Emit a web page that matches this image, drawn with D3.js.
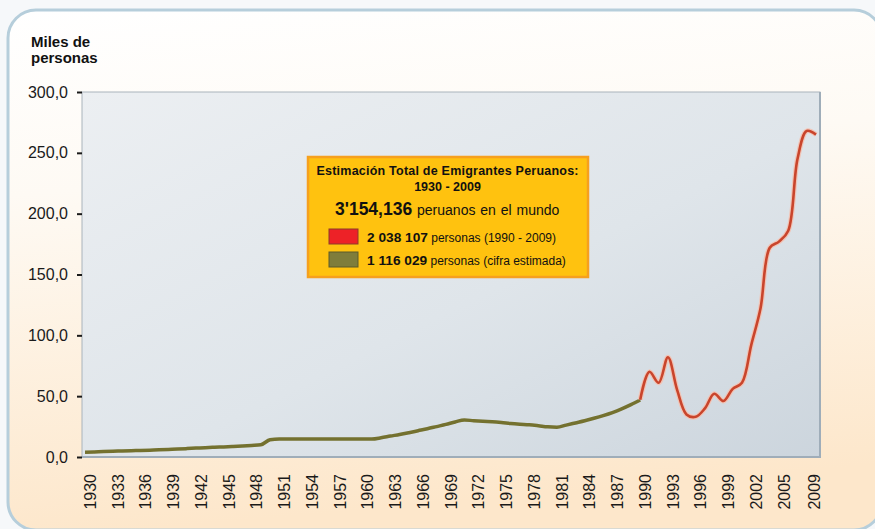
<!DOCTYPE html>
<html>
<head>
<meta charset="utf-8">
<script src="https://cdn.jsdelivr.net/npm/d3@7"></script>
<style>
  body { margin: 0; background: #f6f8fa; }
  svg text { font-family: "Liberation Sans", Arial, sans-serif; }
</style>
</head>
<body>
<svg width="875" height="529"></svg>
<script>
// estimated (olive) series, 1930-1990, miles de personas
var oliveYears = d3.range(1930, 1991);
var oliveValues = [
  4.0, 4.2, 4.5, 4.8, 5.0, 5.2, 5.4, 5.6, 5.9, 6.2,
  6.5, 6.9, 7.3, 7.7, 8.0, 8.3, 8.7, 9.1, 9.5, 10.0,
  14.2, 14.8, 14.8, 14.8, 14.8, 14.8, 14.8, 14.8, 14.8, 14.8,
  14.8, 14.8, 15.8, 17.2, 18.5, 20.0, 21.6, 23.2, 25.0, 26.8,
  28.8, 30.5, 29.8, 29.3, 29.0, 28.4, 27.6, 27.0, 26.5, 25.7,
  24.8, 24.5, 26.2, 28.0, 29.8, 31.8, 34.0, 36.5, 39.5, 43.0,
  46.8
];

// registered (red) series, 1990-2009
var redYears = d3.range(1990, 2010);
var redValues = [
  47, 70, 61, 82, 55, 35, 33, 40, 52, 46,
  56, 61, 92, 122, 172, 177, 186, 245, 268, 265
];

var tickYears = ["1930", "1933", "1936", "1939", "1942", "1945", "1948", "1951", "1954",
  "1957", "1960", "1963", "1966", "1969", "1972", "1975", "1978", "1981", "1984",
  "1987", "1990", "1993", "1996", "1999", "2002", "2005", "2009"];
var yTicks = [0, 50, 100, 150, 200, 250, 300];

var svg = d3.select("svg");
var width = +svg.attr("width");
var height = +svg.attr("height");

var plot = { left: 82, right: 820, top: 92, bottom: 457 };

var x = d3.scaleLinear().domain([1930, 2009]).range([85, 816]);
var y = d3.scaleLinear().domain([0, 300]).range([plot.bottom, plot.top]);

var defs = svg.append("defs");
var bg = defs.append("linearGradient").attr("id", "bg")
  .attr("x1", 0).attr("y1", 0).attr("x2", 0.15).attr("y2", 1);
bg.append("stop").attr("offset", "0%").attr("stop-color", "#ffffff");
bg.append("stop").attr("offset", "35%").attr("stop-color", "#fefaf4");
bg.append("stop").attr("offset", "100%").attr("stop-color", "#fde7cb");

var pg = defs.append("linearGradient").attr("id", "pg")
  .attr("x1", 0).attr("y1", 0).attr("x2", 1).attr("y2", 1);
pg.append("stop").attr("offset", "0%").attr("stop-color", "#eceff2");
pg.append("stop").attr("offset", "55%").attr("stop-color", "#dfe5ea");
pg.append("stop").attr("offset", "100%").attr("stop-color", "#ccd5dd");

// panel
svg.append("rect")
  .attr("x", 8).attr("y", 10)
  .attr("width", 874).attr("height", 520)
  .attr("rx", 28)
  .attr("fill", "url(#bg)")
  .attr("stroke", "#b6cedb")
  .attr("stroke-width", 3);

// plot area
svg.append("rect")
  .attr("x", plot.left).attr("y", plot.top)
  .attr("width", plot.right - plot.left).attr("height", plot.bottom - plot.top)
  .attr("fill", "url(#pg)")
  .attr("stroke", "#a9b3bc")
  .attr("stroke-width", 1);
svg.append("path")
  .attr("d", "M" + plot.left + "," + plot.bottom + "H" + plot.right + "V" + plot.top)
  .attr("fill", "none")
  .attr("stroke", "#9fadb9")
  .attr("stroke-width", 2);

// y axis
var yAxis = svg.append("g")
  .attr("transform", "translate(" + plot.left + ",0)")
  .call(d3.axisLeft(y)
    .tickValues(yTicks)
    .tickSize(5)
    .tickPadding(9)
    .tickFormat(function(d){
      return d3.format(".1f")(d).replace(".", ",");
    }));
yAxis.select(".domain").remove();
yAxis.selectAll("line").attr("stroke", "#1a1a1a").attr("stroke-width", 2);
yAxis.selectAll("text")
  .attr("fill", "#1a1a1a")
  .style("font-size", "16px")
  .style("font-family", "Liberation Sans, Arial, sans-serif");

// x labels
svg.append("g").selectAll("text")
  .data(tickYears)
  .enter()
  .append("text")
  .attr("transform", function(d){
    var px = Math.min(x(+d) + 5, plot.right - 6);
    return "translate(" + px + ",474) rotate(-90)";
  })
  .attr("dy", "0.36em")
  .attr("text-anchor", "end")
  .attr("fill", "#1a1a1a")
  .style("font-size", "16px")
  .text(function(d){ return d; });

// y title
var title = svg.append("text")
  .attr("x", 31).attr("y", 47)
  .attr("font-weight", "bold")
  .attr("fill", "#111")
  .style("font-size", "15px");
title.append("tspan").attr("x", 31).text("Miles de");
title.append("tspan").attr("x", 31).attr("dy", 15.5).text("personas");

// lines
var line = d3.line()
  .x(function(d){ return x(d[0]); })
  .y(function(d){ return y(d[1]); });

var olive = d3.zip(oliveYears, oliveValues);
var red = d3.zip(redYears, redValues);

svg.append("path")
  .attr("d", line.curve(d3.curveMonotoneX)(olive))
  .attr("fill", "none")
  .attr("stroke", "#74712f")
  .attr("stroke-width", 3.5)
  .attr("stroke-linejoin", "round");

var redLine = line.curve(d3.curveCatmullRom.alpha(0.5));
svg.append("path")
  .attr("d", redLine(red))
  .attr("fill", "none")
  .attr("stroke", "#f1c4b6")
  .attr("stroke-width", 5)
  .attr("stroke-linejoin", "round");
svg.append("path")
  .attr("d", redLine(red))
  .attr("fill", "none")
  .attr("stroke", "#c9452c")
  .attr("stroke-width", 2.6)
  .attr("stroke-linejoin", "round");

// legend box
var lg = svg.append("g");
lg.append("rect")
  .attr("x", 308).attr("y", 157)
  .attr("width", 280).attr("height", 120)
  .attr("fill", "#ffc20f")
  .attr("stroke", "#f6a01e")
  .attr("stroke-width", 2.5);

lg.append("text")
  .attr("x", 447.5).attr("y", 175)
  .attr("text-anchor", "middle")
  .attr("font-weight", "bold")
  .attr("textLength", 262)
  .attr("lengthAdjust", "spacing")
  .attr("fill", "#111")
  .style("font-size", "12.5px")
  .text("Estimación Total de Emigrantes Peruanos:");

lg.append("text")
  .attr("x", 447.5).attr("y", 191)
  .attr("text-anchor", "middle")
  .attr("font-weight", "bold")
  .attr("fill", "#111")
  .style("font-size", "12.5px")
  .text("1930 - 2009");

var total = lg.append("text")
  .attr("x", 335).attr("y", 215)
  .attr("fill", "#111");
total.append("tspan").attr("font-weight", "bold").style("font-size", "17.5px").text("3'154,136");
total.append("tspan").style("font-size", "14px").style("word-spacing", "1px").text(" peruanos en el mundo");

var items = [
  { color: "#ed2227", border: "#8c3b2a", bold: "2 038 107", rest: " personas (1990 - 2009)" },
  { color: "#7f7d3b", border: "#5c5a2b", bold: "1 116 029", rest: " personas (cifra estimada)" }
];
items.forEach(function(it, i){
  var yy = 229 + i * 23;
  lg.append("rect")
    .attr("x", 329).attr("y", yy)
    .attr("width", 29).attr("height", 15)
    .attr("fill", it.color)
    .attr("stroke", it.border)
    .attr("stroke-width", 1);
  var t = lg.append("text")
    .attr("x", 367).attr("y", yy + 12.5)
    .attr("fill", "#111");
  t.append("tspan").attr("font-weight", "bold").style("font-size", "13.7px").text(it.bold);
  t.append("tspan").style("font-size", "12px").text(it.rest);
});
</script>
</body>
</html>
